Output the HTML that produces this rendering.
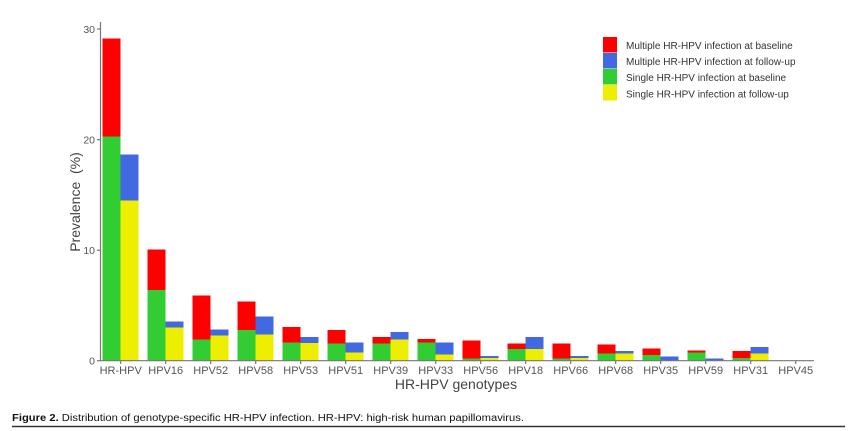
<!DOCTYPE html>
<html><head><meta charset="utf-8"><style>
html,body{margin:0;padding:0;background:#fff;}
svg{display:block;}
text{font-family:"Liberation Sans",Arial,sans-serif;}
</style></head><body>
<svg width="850" height="431" viewBox="0 0 850 431" xmlns="http://www.w3.org/2000/svg">
<rect width="850" height="431" fill="#ffffff"/>
<g id="bars" shape-rendering="crispEdges">
<!-- HR-HPV c=120.7 -->
<rect x="102.7" y="38.3" width="18" height="98.4" fill="#ff0000"/>
<rect x="102.7" y="136.7" width="18" height="224" fill="#32cd32"/>
<rect x="120.7" y="154.7" width="18" height="45.6" fill="#4169e1"/>
<rect x="120.7" y="200.3" width="18" height="160.4" fill="#eeee00"/>
<!-- HPV16 c=165.7 -->
<rect x="147.7" y="249.3" width="18" height="40.7" fill="#ff0000"/>
<rect x="147.7" y="290" width="18" height="70.7" fill="#32cd32"/>
<rect x="165.7" y="321.3" width="18" height="6.4" fill="#4169e1"/>
<rect x="165.7" y="327.7" width="18" height="33" fill="#eeee00"/>
<!-- HPV52 c=210.7 -->
<rect x="192.7" y="295.7" width="18" height="43.6" fill="#ff0000"/>
<rect x="192.7" y="339.3" width="18" height="21.4" fill="#32cd32"/>
<rect x="210.7" y="329.3" width="18" height="6" fill="#4169e1"/>
<rect x="210.7" y="335.3" width="18" height="25.4" fill="#eeee00"/>
<!-- HPV58 c=255.7 -->
<rect x="237.7" y="301.7" width="18" height="28.3" fill="#ff0000"/>
<rect x="237.7" y="330" width="18" height="30.7" fill="#32cd32"/>
<rect x="255.7" y="316.3" width="18" height="18" fill="#4169e1"/>
<rect x="255.7" y="334.3" width="18" height="26.4" fill="#eeee00"/>
<!-- HPV53 c=300.7 -->
<rect x="282.7" y="327" width="18" height="15.7" fill="#ff0000"/>
<rect x="282.7" y="342.7" width="18" height="18" fill="#32cd32"/>
<rect x="300.7" y="337.2" width="18" height="6" fill="#4169e1"/>
<rect x="300.7" y="343.2" width="18" height="17.5" fill="#eeee00"/>
<!-- HPV51 c=345.7 -->
<rect x="327.7" y="330" width="18" height="13.7" fill="#ff0000"/>
<rect x="327.7" y="343.7" width="18" height="17" fill="#32cd32"/>
<rect x="345.7" y="342.7" width="18" height="10" fill="#4169e1"/>
<rect x="345.7" y="352.7" width="18" height="8" fill="#eeee00"/>
<!-- HPV39 c=390.7 -->
<rect x="372.7" y="337" width="18" height="6.7" fill="#ff0000"/>
<rect x="372.7" y="343.7" width="18" height="17" fill="#32cd32"/>
<rect x="390.7" y="332" width="18" height="7.3" fill="#4169e1"/>
<rect x="390.7" y="339.3" width="18" height="21.4" fill="#eeee00"/>
<!-- HPV33 c=435.7 -->
<rect x="417.7" y="339" width="18" height="3.7" fill="#ff0000"/>
<rect x="417.7" y="342.7" width="18" height="18" fill="#32cd32"/>
<rect x="435.7" y="342.7" width="18" height="11.6" fill="#4169e1"/>
<rect x="435.7" y="354.3" width="18" height="6.4" fill="#eeee00"/>
<!-- HPV56 c=480.7 -->
<rect x="462.7" y="340.7" width="18" height="17.6" fill="#ff0000"/>
<rect x="462.7" y="358.3" width="18" height="2.4" fill="#32cd32"/>
<rect x="480.7" y="356" width="18" height="2" fill="#4169e1"/>
<rect x="480.7" y="358" width="18" height="2.7" fill="#eeee00"/>
<!-- HPV18 c=525.7 -->
<rect x="507.7" y="343.3" width="18" height="5.7" fill="#ff0000"/>
<rect x="507.7" y="349" width="18" height="11.7" fill="#32cd32"/>
<rect x="525.7" y="337" width="18" height="12" fill="#4169e1"/>
<rect x="525.7" y="349" width="18" height="11.7" fill="#eeee00"/>
<!-- HPV66 c=570.7 -->
<rect x="552.7" y="343.3" width="18" height="15" fill="#ff0000"/>
<rect x="552.7" y="358.3" width="18" height="2.4" fill="#32cd32"/>
<rect x="570.7" y="356" width="18" height="2" fill="#4169e1"/>
<rect x="570.7" y="358" width="18" height="2.7" fill="#eeee00"/>
<!-- HPV68 c=615.7 -->
<rect x="597.7" y="344.7" width="18" height="8.6" fill="#ff0000"/>
<rect x="597.7" y="353.3" width="18" height="7.4" fill="#32cd32"/>
<rect x="615.7" y="351" width="18" height="2.3" fill="#4169e1"/>
<rect x="615.7" y="353.3" width="18" height="7.4" fill="#eeee00"/>
<!-- HPV35 c=660.7 -->
<rect x="642.7" y="348.3" width="18" height="6.7" fill="#ff0000"/>
<rect x="642.7" y="355" width="18" height="5.7" fill="#32cd32"/>
<rect x="660.7" y="356.3" width="18" height="4.4" fill="#4169e1"/>
<!-- HPV59 c=705.7 -->
<rect x="687.7" y="350.3" width="18" height="2" fill="#ff0000"/>
<rect x="687.7" y="352.3" width="18" height="8.4" fill="#32cd32"/>
<rect x="705.7" y="358.3" width="18" height="2.4" fill="#4169e1"/>
<!-- HPV31 c=750.7 -->
<rect x="732.7" y="351.2" width="18" height="6.6" fill="#ff0000"/>
<rect x="732.7" y="357.8" width="18" height="2.9" fill="#32cd32"/>
<rect x="750.7" y="347.2" width="18" height="6.1" fill="#4169e1"/>
<rect x="750.7" y="353.3" width="18" height="7.4" fill="#eeee00"/>
</g>
<!-- axes -->
<g stroke="#777" stroke-width="1.2" fill="none">
<line x1="100.5" y1="22" x2="100.5" y2="361"/>
<line x1="100" y1="360.7" x2="814" y2="360.7"/>
<line x1="97" y1="29" x2="100.5" y2="29"/>
<line x1="97" y1="139.6" x2="100.5" y2="139.6"/>
<line x1="97" y1="250.2" x2="100.5" y2="250.2"/>
<line x1="97" y1="360.7" x2="100.5" y2="360.7"/>
<line x1="120.7" y1="360.7" x2="120.7" y2="364"/>
<line x1="165.7" y1="360.7" x2="165.7" y2="364"/>
<line x1="210.7" y1="360.7" x2="210.7" y2="364"/>
<line x1="255.7" y1="360.7" x2="255.7" y2="364"/>
<line x1="300.7" y1="360.7" x2="300.7" y2="364"/>
<line x1="345.7" y1="360.7" x2="345.7" y2="364"/>
<line x1="390.7" y1="360.7" x2="390.7" y2="364"/>
<line x1="435.7" y1="360.7" x2="435.7" y2="364"/>
<line x1="480.7" y1="360.7" x2="480.7" y2="364"/>
<line x1="525.7" y1="360.7" x2="525.7" y2="364"/>
<line x1="570.7" y1="360.7" x2="570.7" y2="364"/>
<line x1="615.7" y1="360.7" x2="615.7" y2="364"/>
<line x1="660.7" y1="360.7" x2="660.7" y2="364"/>
<line x1="705.7" y1="360.7" x2="705.7" y2="364"/>
<line x1="750.7" y1="360.7" x2="750.7" y2="364"/>
<line x1="795.7" y1="360.7" x2="795.7" y2="364"/>
</g>
<g fill="#555" font-size="10.5" text-anchor="end">
<text x="95" y="33">30</text>
<text x="95" y="143.5">20</text>
<text x="95" y="254">10</text>
<text x="95" y="364.5">0</text>
</g>
<g fill="#555" font-size="11" text-anchor="middle">
<text x="120.7" y="374">HR-HPV</text>
<text x="165.7" y="374">HPV16</text>
<text x="210.7" y="374">HPV52</text>
<text x="255.7" y="374">HPV58</text>
<text x="300.7" y="374">HPV53</text>
<text x="345.7" y="374">HPV51</text>
<text x="390.7" y="374">HPV39</text>
<text x="435.7" y="374">HPV33</text>
<text x="480.7" y="374">HPV56</text>
<text x="525.7" y="374">HPV18</text>
<text x="570.7" y="374">HPV66</text>
<text x="615.7" y="374">HPV68</text>
<text x="660.7" y="374">HPV35</text>
<text x="705.7" y="374">HPV59</text>
<text x="750.7" y="374">HPV31</text>
<text x="795.7" y="374">HPV45</text>
</g>
<text x="456" y="389" font-size="14" fill="#444" text-anchor="middle">HR-HPV genotypes</text>
<text transform="translate(80,202) rotate(-90)" font-size="14" fill="#444" text-anchor="middle" xml:space="preserve">Prevalence  (%)</text>
<!-- legend -->
<g shape-rendering="crispEdges">
<rect x="603" y="37" width="14" height="15.5" fill="#ff0000"/>
<rect x="603" y="53" width="14" height="15.5" fill="#4169e1"/>
<rect x="603" y="69" width="14" height="15.5" fill="#32cd32"/>
<rect x="603" y="85" width="14" height="15.5" fill="#eeee00"/>
</g>
<g fill="#333" font-size="10">
<text x="626" y="49">Multiple HR-HPV infection at baseline</text>
<text x="626" y="65">Multiple HR-HPV infection at follow-up</text>
<text x="626" y="81">Single HR-HPV infection at baseline</text>
<text x="626" y="97.5">Single HR-HPV infection at follow-up</text>
</g>
<!-- caption -->
<text x="12" y="421" font-size="10" fill="#111" textLength="512" lengthAdjust="spacingAndGlyphs"><tspan font-weight="bold">Figure 2.</tspan> Distribution of genotype-specific HR-HPV infection. HR-HPV: high-risk human papillomavirus.</text>
<line x1="12" y1="426.5" x2="845" y2="426.5" stroke="#333" stroke-width="1.5"/>
</svg>
</body></html>
